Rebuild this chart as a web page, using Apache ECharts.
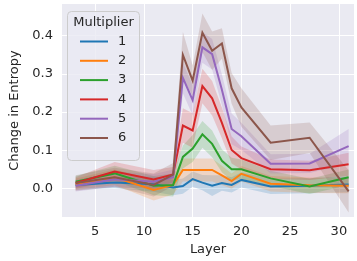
<!DOCTYPE html>
<html>
<head>
<meta charset="utf-8">
<script src="https://cdn.jsdelivr.net/npm/echarts@6/dist/echarts.min.js"></script>
<style>
  html, body { margin: 0; padding: 0; background: #fff; }
  #chart { width: 357px; height: 261px; }
</style>
</head>
<body>
<div id="chart"></div>
<script>
// layers sampled
const layers = [3, 7, 11, 13, 14, 15, 16, 17, 18, 19, 20, 23, 27, 31]
const multipliers = ['1', '2', '3', '4', '5', '6']
const colors = ['#1f77b4', '#ff7f0e', '#2ca02c', '#d62728', '#9467bd', '#8c564b']

// mean change in entropy per multiplier
const m1 = [0.010, 0.016, 0.012, 0.003, 0.007, 0.025, 0.016, 0.008, 0.015, 0.010, 0.023, 0.006, 0.008, 0.011]
const m2 = [0.012, 0.030, -0.003, 0.010, 0.049, 0.049, 0.049, 0.049, 0.035, 0.020, 0.039, 0.013, 0.009, 0.008]
const m3 = [0.018, 0.040, 0.008, 0.010, 0.083, 0.105, 0.142, 0.117, 0.073, 0.051, 0.051, 0.027, 0.006, 0.030]
const m4 = [0.015, 0.045, 0.024, 0.037, 0.165, 0.152, 0.268, 0.236, 0.172, 0.101, 0.080, 0.051, 0.048, 0.064]
const m5 = [0.008, 0.025, 0.018, 0.030, 0.289, 0.231, 0.369, 0.351, 0.258, 0.156, 0.137, 0.065, 0.066, 0.111]
const m6 = [0.015, 0.030, 0.010, 0.037, 0.349, 0.282, 0.407, 0.360, 0.379, 0.262, 0.212, 0.120, 0.133, -0.007]

// half width of the shaded confidence band
const ci1 = [0.012, 0.015, 0.020, 0.020, 0.020, 0.020, 0.020, 0.027, 0.020, 0.020, 0.020, 0.020, 0.020, 0.020]
const ci2 = [0.015, 0.020, 0.028, 0.025, 0.030, 0.030, 0.030, 0.030, 0.025, 0.020, 0.020, 0.020, 0.020, 0.020]
const ci3 = [0.015, 0.020, 0.025, 0.030, 0.030, 0.035, 0.035, 0.035, 0.030, 0.030, 0.025, 0.020, 0.020, 0.020]
const ci4 = [0.015, 0.025, 0.025, 0.020, 0.045, 0.045, 0.045, 0.045, 0.040, 0.035, 0.030, 0.025, 0.025, 0.030]
const ci5 = [0.015, 0.020, 0.020, 0.020, 0.040, 0.040, 0.040, 0.040, 0.040, 0.040, 0.035, 0.025, 0.025, 0.045]
const ci6 = [0.020, 0.025, 0.030, 0.030, 0.060, 0.040, 0.050, 0.050, 0.040, 0.040, 0.050, 0.045, 0.040, 0.055]

const xTicks = [5, 10, 15, 20, 25, 30]
const yTicks = [0, 0.1, 0.2, 0.3, 0.4]

const means = [m1, m2, m3, m4, m5, m6]
const cis = [ci1, ci2, ci3, ci4, ci5, ci6]
const txt = '#262626'
const font = 'DejaVu Sans'

const bandSeries = means.map((m, k) => ({
  type: 'custom',
  name: 'band' + k,
  silent: true,
  z: 1,
  encode: { x: 0, y: [1, 2] },
  data: layers.map((x, i) => [x, m[i] - cis[k][i], m[i] + cis[k][i]]),
  renderItem: (params, api) => {
    if (params.dataIndex !== 0) return
    const upper = layers.map((x, i) => api.coord([x, m[i] + cis[k][i]]))
    const lower = layers.map((x, i) => api.coord([x, m[i] - cis[k][i]])).reverse()
    return {
      type: 'polygon',
      shape: { points: upper.concat(lower) },
      style: { fill: colors[k], opacity: 0.2 }
    }
  }
}))

const lineSeries = means.map((m, k) => ({
  type: 'line',
  name: multipliers[k],
  z: 3,
  symbol: 'none',
  color: colors[k],
  lineStyle: { width: 2, color: colors[k], join: 'miter' },
  data: layers.map((x, i) => [x, m[i]])
}))

const chart = echarts.init(document.getElementById('chart'), null, { renderer: 'canvas' })
chart.setOption({
  animation: false,
  backgroundColor: '#ffffff',
  textStyle: { fontFamily: font },
  grid: { left: 62, right: 3, top: 4, bottom: 41.5, show: true, backgroundColor: '#eaeaf2', borderWidth: 0 },
  xAxis: {
    type: 'value',
    min: 1.6,
    max: 31.55,
    name: 'Layer',
    nameLocation: 'middle',
    nameGap: 25,
    nameTextStyle: { color: txt, fontSize: 13, fontFamily: font },
    axisLine: { show: false },
    axisTick: { show: false, customValues: xTicks },
    axisLabel: { customValues: xTicks, color: txt, fontSize: 13, fontFamily: font, margin: 8 },
    splitLine: { show: true, lineStyle: { color: '#ffffff', width: 1 } }
  },
  yAxis: {
    type: 'value',
    min: -0.074,
    max: 0.482,
    name: 'Change in Entropy',
    nameLocation: 'middle',
    nameGap: 37,
    nameTextStyle: { color: txt, fontSize: 13, fontFamily: font },
    axisLine: { show: false },
    axisTick: { show: false, customValues: yTicks },
    axisLabel: { customValues: yTicks, color: txt, fontSize: 13, fontFamily: font, margin: 9,
      formatter: v => v.toFixed(1) },
    splitLine: { show: true, lineStyle: { color: '#ffffff', width: 1 } }
  },
  legend: {
    orient: 'vertical',
    left: 80,
    top: 35,
    z: 10,
    padding: 0,
    icon: 'rect',
    itemWidth: 28,
    itemHeight: 2,
    itemGap: 6.3,
    data: multipliers,
    textStyle: { color: txt, fontSize: 13, fontFamily: font, padding: [0, 0, 0, 5] }
  },
  graphic: [
    {
      type: 'rect',
      z: 5,
      shape: { x: 67.5, y: 11.5, width: 72, height: 149, r: 4 },
      style: { fill: 'rgba(234,234,242,0.8)', stroke: '#cccccc', lineWidth: 1 }
    },
    {
      type: 'text',
      z: 6,
      x: 103.5,
      y: 22.5,
      style: { text: 'Multiplier', fill: txt, font: '13px "DejaVu Sans"', align: 'center', verticalAlign: 'middle' }
    }
  ],
  series: bandSeries.concat(lineSeries)
})
</script>
</body>
</html>
